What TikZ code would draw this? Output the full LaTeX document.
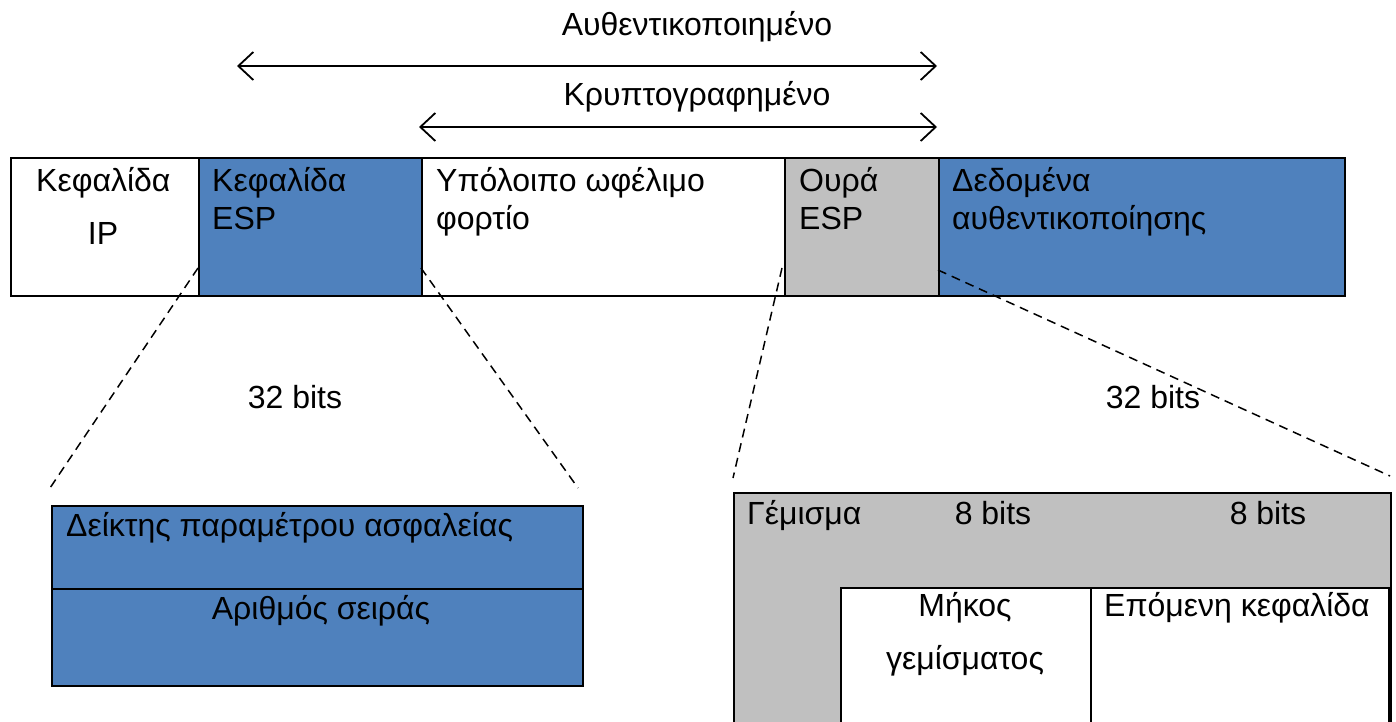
\documentclass[tikz,border=0pt]{standalone}
\usepackage{fontspec}
\setmainfont{Liberation Sans}
\usetikzlibrary{arrows.meta}
\definecolor{espblue}{HTML}{4F81BD}
\definecolor{trailgray}{HTML}{C0C0C0}
\begin{document}
\begin{tikzpicture}[x=1pt,y=-1pt,
  box/.style={draw=black, line width=2.4pt, inner sep=0pt, anchor=north west},
  lbl/.style={inner sep=0pt, font=\fontsize{32}{38}\selectfont},
  span/.style={line width=1.8pt,
    {Straight Barb[length=15pt,width=28pt]}-{Straight Barb[length=15pt,width=28pt]}},
  zoomline/.style={line width=1.5pt, dash pattern=on 9pt off 6pt}]
\useasboundingbox (0,0) rectangle (1396,722);
\clip (0,0) rectangle (1396,722);

% ESP packet
\node[box, fill=white,     minimum width=188pt, minimum height=138pt] (iphdr)  at (10,157)  {};
\node[box, fill=espblue,   minimum width=223pt, minimum height=138pt] (esphdr) at (198,157) {};
\node[box, fill=white,     minimum width=363pt, minimum height=138pt] (payload) at (421,157) {};
\node[box, fill=trailgray, minimum width=154pt, minimum height=138pt] (esptrl) at (784,157) {};
\node[box, fill=espblue,   minimum width=406pt, minimum height=138pt] (authd)  at (938,157) {};

\node[lbl, anchor=base west] (t1) at (36,192) {Κεφαλίδα};
\node[lbl, anchor=base] (t2) at (103,244) {IP};
\node[lbl, anchor=base west] (t3) at (212,192) {Κεφαλίδα};
\node[lbl, anchor=base west] (t4) at (212,229) {ESP};
\node[lbl, anchor=base west] (t5) at (436,192) {Υπόλοιπο ωφέλιμο};
\node[lbl, anchor=base west] (t6) at (436,229) {φορτίο};
\node[lbl, anchor=base west] (t7) at (799,192) {Ουρά};
\node[lbl, anchor=base west] (t8) at (799,229) {ESP};
\node[lbl, anchor=base west] (t9) at (952,192) {Δεδομένα};
\node[lbl, anchor=base west] (t10) at (952,229) {αυθεντικοποίησης};

% coverage arrows
\coordinate (authL) at (237,66);
\coordinate (authR) at (937,66);
\coordinate (encL) at (419,127);
\coordinate (encR) at (937,127);
\draw[span] (authL) -- (authR);
\draw[span] (encL) -- (encR);
\node[lbl, anchor=base] (authlbl) at (697,36) {Αυθεντικοποιημένο};
\node[lbl, anchor=base] (enclbl) at (697,106) {Κρυπτογραφημένο};

% ESP header detail
\node[box, fill=espblue, minimum width=531pt, minimum height=83pt] (spi) at (51,505) {};
\node[box, fill=espblue, minimum width=531pt, minimum height=97pt] (seq) at (51,588) {};
\node[lbl, anchor=base west] (spilbl) at (66,536) {Δείκτης παραμέτρου ασφαλείας};
\node[lbl, anchor=base] (seqlbl) at (321,619) {Αριθμός σειράς};
\node[lbl, anchor=base] (bitsL) at (295,408) {32 bits};

\coordinate (hdrA) at (198,268);
\coordinate (hdrB) at (421,268);
\coordinate (hdrC) at (50,488);
\coordinate (hdrD) at (578,488);
\draw[zoomline] (hdrA) -- (hdrC);
\draw[zoomline] (hdrB) -- (hdrD);

% ESP trailer detail
\node[box, fill=trailgray, minimum width=657pt, minimum height=260pt] (pad) at (733,492) {};
\node[box, fill=white, minimum width=250pt, minimum height=170pt] (padlen) at (840,587) {};
\node[box, fill=white, minimum width=298pt, minimum height=170pt] (nexthdr) at (1090,587) {};
\node[lbl, anchor=base west] (padlbl) at (747,524) {Γέμισμα};
\node[lbl, anchor=base] (b8a) at (993,524) {8 bits};
\node[lbl, anchor=base] (b8b) at (1268,524) {8 bits};
\node[lbl, anchor=base] (pl1) at (965,616) {Μήκος};
\node[lbl, anchor=base] (pl2) at (965,669) {γεμίσματος};
\node[lbl, anchor=base west] (nh) at (1104,616) {Επόμενη κεφαλίδα};
\node[lbl, anchor=base] (bitsR) at (1153,408) {32 bits};

\coordinate (trlA) at (782,268);
\coordinate (trlB) at (938,270);
\coordinate (trlC) at (733,478);
\coordinate (trlD) at (1390,476);
\draw[zoomline] (trlA) -- (trlC);
\draw[zoomline] (trlB) -- (trlD);
\end{tikzpicture}
\end{document}
